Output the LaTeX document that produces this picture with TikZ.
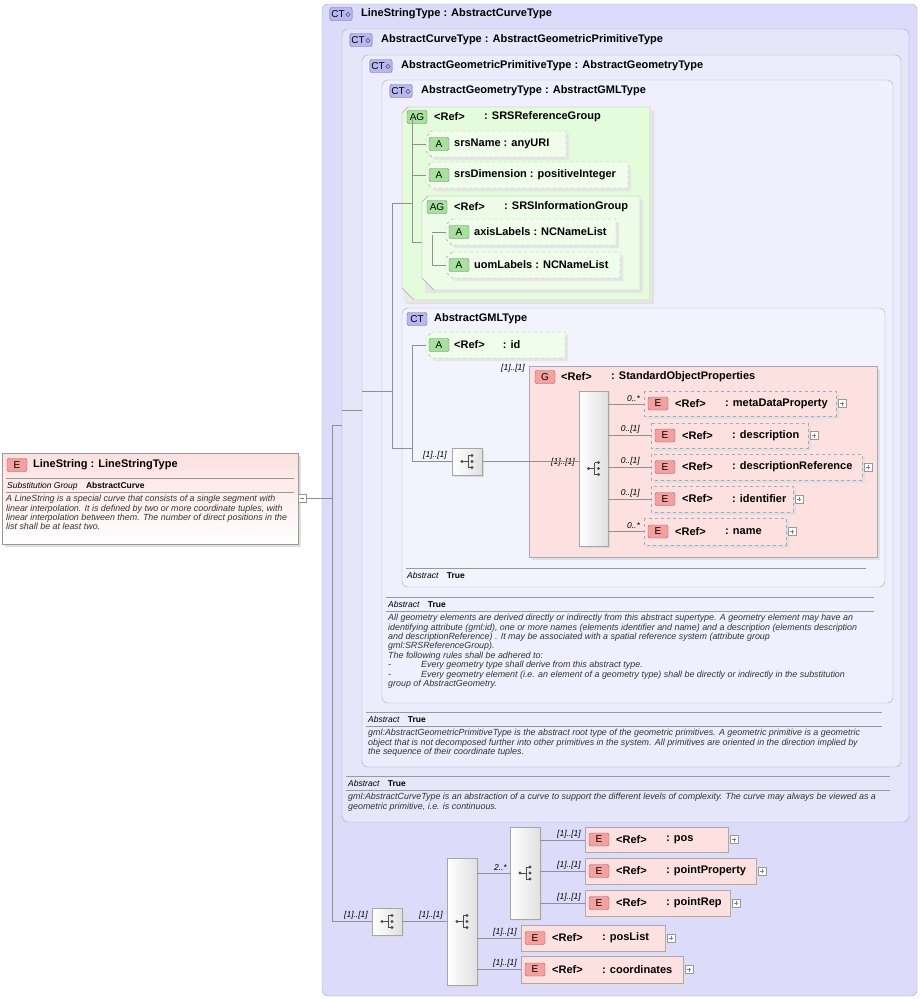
\documentclass[tikz,border=0pt]{standalone}
\usepackage{fontspec}
\setmainfont{Liberation Sans}
\usepackage{tikz}
\usetikzlibrary{positioning}

\definecolor{ctfill}{HTML}{DCDCFA}
\definecolor{ctline}{HTML}{A8A8B8}
\definecolor{agfill}{HTML}{E4FBDC}
\definecolor{efill}{HTML}{FDE0E0}
\definecolor{etag}{HTML}{F4A0A0}
\definecolor{atag}{HTML}{A8E0A0}
\definecolor{cttag}{HTML}{B8B8F0}
\definecolor{tree}{HTML}{909090}

\tikzset{
  box/.style={draw=ctline, rounded corners=6pt},
  tag/.style={draw=#1!60!black, fill=#1, rounded corners=2pt, inner sep=1.5pt,
    minimum height=13pt, minimum width=20pt, font=\fontsize{10}{10}\selectfont},
  ttl/.style={anchor=west, font=\bfseries\fontsize{11}{11}\selectfont, inner sep=0pt},
  mult/.style={font=\itshape\fontsize{8.5}{8.5}\selectfont, inner sep=0pt},
  abs/.style={anchor=west, inner sep=0pt, font=\itshape\fontsize{8.5}{8.5}\selectfont},
  doc/.style={anchor=north west, align=left, inner sep=0pt,
    font=\itshape\fontsize{8.9}{9.4}\selectfont, text=black!80},
  lnk/.style={draw=tree, line width=0.6pt},
}

% element box: x1 y1 x2 y2 name dash
\newcommand\elem[6]{%
  \fill[black!12] (#1+3,#2+3) rectangle (#3+3,#4+3);
  \draw[ctline, fill=efill, #6] (#1,#2) rectangle (#3,#4);
  \node[tag=etag] at (#1+14,{(#2+#4)/2}) {E};
  \node[ttl] at (#1+31,{(#2+#4)/2}) {<Ref>};
  \node[ttl] at (#1+81,{(#2+#4)/2}) {: #5};
  \draw[black!40, fill=white] (#3+2,{(#2+#4)/2-4}) rectangle (#3+10,{(#2+#4)/2+4});
  \draw[black!50] (#3+4,{(#2+#4)/2}) -- (#3+8,{(#2+#4)/2}) (#3+6,{(#2+#4)/2-2}) -- (#3+6,{(#2+#4)/2+2});
}
% attribute box: x1 y1 x2 y2 text
\newcommand\attr[5]{%
  \fill[black!10] (#1+3,#2+3) -- (#3+3,#2+3) -- (#3+3,#4+3) -- (#1+9,#4+3) -- (#1+3,#4-3) -- cycle;
  \draw[ctline, dashed, fill=agfill!60!white] (#1+6,#2) -- (#3,#2) -- (#3,#4) -- (#1+6,#4) -- (#1,#4-6) -- (#1,#2+6) -- cycle;
  \node[tag=atag] at (#1+13,{(#2+#4)/2}) {A};
  \node[ttl] at (#1+28,{(#2+#4)/2}) {#5};
}
% compositor: x1 y1 x2 y2
\newcommand\comp[4]{%
  \fill[black!15] (#1+2,#2+2) rectangle (#3+2,#4+2);
  \shade[left color=white, right color=black!12, draw=black!35] (#1,#2) rectangle (#3,#4);
  \fill[black!70] ({(#1+#3)/2-5},{(#2+#4)/2}) circle (1.7pt) ({(#1+#3)/2+5},{(#2+#4)/2-6}) circle (1.7pt)
    ({(#1+#3)/2+5},{(#2+#4)/2}) circle (1.7pt) ({(#1+#3)/2+5},{(#2+#4)/2+6}) circle (1.7pt);
  \draw[black!70] ({(#1+#3)/2-5},{(#2+#4)/2}) -- ({(#1+#3)/2+1},{(#2+#4)/2})
    ({(#1+#3)/2+1},{(#2+#4)/2-6}) -- ({(#1+#3)/2+1},{(#2+#4)/2+6})
    ({(#1+#3)/2+1},{(#2+#4)/2-6}) -- ({(#1+#3)/2+5},{(#2+#4)/2-6})
    ({(#1+#3)/2+1},{(#2+#4)/2+6}) -- ({(#1+#3)/2+5},{(#2+#4)/2+6});
}

\begin{document}
\begin{tikzpicture}[x=1pt, y=-1pt]
\useasboundingbox[fill=white] (0,0) rectangle (921,999);

% nested complex types
\draw[box, fill=ctfill] (322,4) rectangle (917,996);
\node[tag=cttag] at (341,14) {CT\kern1pt$\diamond$};
\node[ttl] at (361,14) {LineStringType : AbstractCurveType};
\draw[box, fill=ctfill!70!white] (342,29) rectangle (909,822);
\node[tag=cttag] at (361,40) {CT\kern1pt$\diamond$};
\node[ttl] at (381,40) {AbstractCurveType : AbstractGeometricPrimitiveType};
\draw[box, fill=ctfill!55!white] (362,55) rectangle (901,767);
\node[tag=cttag] at (381,66) {CT\kern1pt$\diamond$};
\node[ttl] at (401,66) {AbstractGeometricPrimitiveType : AbstractGeometryType};
\draw[box, fill=ctfill!45!white] (382,80) rectangle (893,703);
\node[tag=cttag] at (401,91) {CT\kern1pt$\diamond$};
\node[ttl] at (421,91) {AbstractGeometryType : AbstractGMLType};

% attribute groups
\fill[black!12] (406,111) rectangle (654,304);
\fill[agfill!60!black!20] (404,109) rectangle (652,302);
\draw[ctline, fill=agfill] (408,107) -- (650,107) -- (650,300) -- (414,300) -- (402,288) -- (402,113) -- cycle;
\node[tag=atag] at (417,117) {AG};
\node[ttl] at (434,117) {<Ref>};
\node[ttl] at (484,117) {: SRSReferenceGroup};
\attr{426}{131}{566}{157}{srsName : anyURI}
\attr{426}{162}{628}{188}{srsDimension : positiveInteger}
\fill[black!10] (425,199) rectangle (643,293);
\draw[ctline, fill=agfill!70!white] (428,196) -- (640,196) -- (640,290) -- (434,290) -- (422,278) -- (422,202) -- cycle;
\node[tag=atag] at (437,207) {AG};
\node[ttl] at (454,207) {<Ref>};
\node[ttl] at (504,207) {: SRSInformationGroup};
\attr{446}{219}{616}{245}{axisLabels : NCNameList}
\attr{446}{252}{620}{278}{uomLabels : NCNameList}

% AbstractGMLType
\draw[box, fill=ctfill!35!white] (402,308) rectangle (885,587);
\node[tag=cttag] at (417,319) {CT};
\node[ttl] at (434,319) {AbstractGMLType};
\attr{426}{332}{565}{358}{<Ref>\hspace{18pt}: id};
\comp{452}{448}{482}{475}
\node[mult, anchor=south east] at (447,459) {[1]..[1]};
\fill[black!12] (532,369) rectangle (880,560);
\draw[ctline, fill=efill] (529,366) rectangle (877,557);
\node[tag=etag] at (545,377) {G};
\node[ttl] at (561,377) {<Ref>};
\node[ttl] at (611,377) {: StandardObjectProperties};
\node[mult, anchor=south east] at (525,372) {[1]..[1]};
\comp{579}{391}{608}{546}
\node[mult, anchor=south east] at (575,466) {[1]..[1]};
\elem{644}{391}{836}{416}{metaDataProperty}{dashed}
\elem{651}{423}{808}{448}{description}{dashed}
\elem{651}{454}{862}{480}{descriptionReference}{dashed}
\elem{651}{486}{793}{512}{identifier}{dashed}
\elem{644}{518}{786}{545}{name}{dashed}
\foreach \y/\m in {404/{0..*},435/{0..[1]},467/{0..[1]},499/{0..[1]},531/{0..*}}
  \node[mult, anchor=south east] at (640,\y-2) {\m};
\foreach \y/\x in {404/644,435/651,467/651,499/651,531/644}
  \draw[lnk] (608,\y) -- (\x,\y);
\draw[lnk] (482,461) -- (579,461);

% abstract sections
\draw[black!40] (406,568) -- (866,568);
\node[abs] at (407,575) {Abstract\quad\textbf{\upshape True}};
\draw[black!40] (386,597) -- (874,597) (386,611) -- (874,611);
\node[abs] at (388,604) {Abstract\quad\textbf{\upshape True}};
\node[doc] at (388,614) {All geometry elements are derived directly or indirectly from this abstract supertype. A geometry element may have an\\identifying attribute (gml:id), one or more names (elements identifier and name) and a description (elements description\\and descriptionReference) . It may be associated with a spatial reference system (attribute group\\gml:SRSReferenceGroup).\\The following rules shall be adhered to:\\-\hspace{30pt}Every geometry type shall derive from this abstract type.\\-\hspace{30pt}Every geometry element (i.e. an element of a geometry type) shall be directly or indirectly in the substitution\\group of AbstractGeometry.};
\draw[black!40] (366,712) -- (882,712) (366,726) -- (882,726);
\node[abs] at (368,719) {Abstract\quad\textbf{\upshape True}};
\node[doc] at (368,729) {gml:AbstractGeometricPrimitiveType is the abstract root type of the geometric primitives. A geometric primitive is a geometric\\object that is not decomposed further into other primitives in the system. All primitives are oriented in the direction implied by\\the sequence of their coordinate tuples.};
\draw[black!40] (346,776) -- (890,776) (346,790) -- (890,790);
\node[abs] at (348,783) {Abstract\quad\textbf{\upshape True}};
\node[doc] at (348,793) {gml:AbstractCurveType is an abstraction of a curve to support the different levels of complexity. The curve may always be viewed as a\\geometric primitive, i.e. is continuous.};

% tree lines
\draw[lnk] (332,425) -- (332,921) (332,425) -- (342,425) (342,410) -- (362,410) (362,391) -- (392,391);
\draw[lnk] (392,203) -- (392,448) (392,203) -- (412,203) (392,448) -- (412,448);
\draw[lnk] (412,117) -- (412,242) (412,144) -- (426,144) (412,175) -- (426,175) (412,242) -- (422,242);
\draw[lnk] (432,235) -- (432,265) (432,232) -- (446,232) (432,265) -- (446,265);
\draw[lnk] (412,345) -- (412,461) (412,345) -- (426,345) (412,461) -- (452,461);

% bottom content model
\comp{372}{908}{402}{935}
\draw[lnk] (332,921) -- (372,921) (402,921) -- (447,921);
\node[mult, anchor=south east] at (368,919) {[1]..[1]};
\comp{447}{858}{477}{985}
\node[mult, anchor=south east] at (443,919) {[1]..[1]};
\comp{510}{827}{540}{919}
\draw[lnk] (477,873) -- (510,873);
\node[mult, anchor=south east] at (507,871) {2..*};
\elem{585}{827}{728}{852}{pos}{solid}
\elem{585}{858}{756}{884}{pointProperty}{solid}
\elem{585}{890}{730}{916}{pointRep}{solid}
\elem{521}{925}{665}{951}{posList}{solid}
\elem{521}{956}{683}{983}{coordinates}{solid}
\foreach \y in {840,871,903} {
  \draw[lnk] (540,\y) -- (585,\y);
  \node[mult, anchor=south east] at (581,\y-2) {[1]..[1]};
}
\foreach \y in {938,969} {
  \draw[lnk] (477,\y) -- (521,\y);
  \node[mult, anchor=south east] at (517,\y-2) {[1]..[1]};
}

% LineString element
\fill[black!12] (5,456) rectangle (301,547);
\shade[top color=efill, bottom color=white, draw=black!40] (2,453) rectangle (298,544);
\node[tag=etag] at (17,465) {E};
\node[ttl] at (33,465) {LineString : LineStringType};
\draw[black!40] (6,478) -- (294,478) (6,492) -- (294,492);
\node[anchor=west, inner sep=0pt, font=\fontsize{8.5}{8.5}\selectfont] at (7,486) {\itshape Substitution Group\quad\upshape\bfseries AbstractCurve};
\node[doc] at (6,495) {A LineString is a special curve that consists of a single segment with\\linear interpolation. It is defined by two or more coordinate tuples, with\\linear interpolation between them. The number of direct positions in the\\list shall be at least two.};
\draw[black!40, fill=white] (298,494) rectangle (306,502);
\draw[black!50] (300,498) -- (304,498);
\draw[lnk] (306,498) -- (332,498);
\end{tikzpicture}
\end{document}
